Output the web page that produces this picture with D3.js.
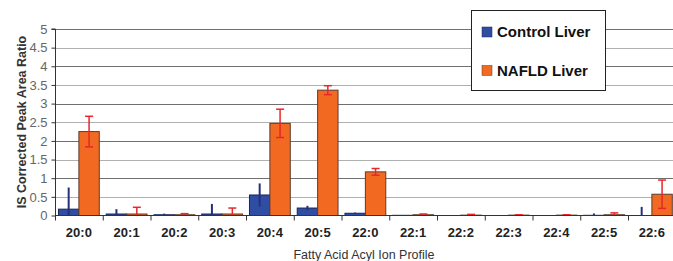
<!DOCTYPE html>
<html>
<head>
<meta charset="utf-8">
<script src="https://cdn.jsdelivr.net/npm/d3@7"></script>
<style>
  body { margin: 0; background: #fff; }
  svg { display: block; font-family: Arial, "Liberation Sans", sans-serif; }
</style>
</head>
<body>
<script>
const categories = ['20:0', '20:1', '20:2', '20:3', '20:4', '20:5', '22:0', '22:1', '22:2', '22:3', '22:4', '22:5', '22:6'];
const controlValues = [0.17, 0.04, 0.02, 0.04, 0.55, 0.2, 0.06, 0.005, 0, 0, 0, 0.005, 0];
const controlErrors = [0.58, 0.13, 0.03, 0.27, 0.31, 0.06, 0.02, 0.005, 0, 0, 0, 0.05, 0.23];
const nafldValues = [2.25, 0.04, 0.02, 0.04, 2.47, 3.36, 1.17, 0.02, 0.01, 0.01, 0.01, 0.02, 0.57];
const nafldErrors = [0.41, 0.18, 0.03, 0.16, 0.38, 0.12, 0.09, 0.02, 0.02, 0.01, 0.01, 0.05, 0.38];
const yTicks = [0, 0.5, 1, 1.5, 2, 2.5, 3, 3.5, 4, 4.5, 5];
const seriesNames = ['Control Liver', 'NAFLD Liver'];

const width = 673, height = 261;
const svg = d3.select('body').append('svg')
  .attr('width', width)
  .attr('height', height);

const x = d3.scaleBand()
  .domain(categories)
  .range([55, 55 + 13 * 47.75])
  .paddingInner(0)
  .paddingOuter(0);

const y = d3.scaleLinear()
  .domain([0, 5])
  .range([215.5, 29]);

const inner = d3.scaleBand()
  .domain([0, 1])
  .range([0, x.bandwidth()])
  .paddingOuter(0.17)
  .paddingInner(0);

// gridlines
svg.append('g').selectAll('line')
  .data(yTicks.filter(d => d > 0))
  .enter().append('line')
  .attr('x1', 55).attr('x2', width)
  .attr('y1', d => Math.round(y(d)) + 0.5)
  .attr('y2', d => Math.round(y(d)) + 0.5)
  .attr('stroke', d => d % 1 === 0 ? '#707070' : '#b0b0b0')
  .attr('stroke-width', 1);

// y axis
const yAxis = svg.append('g')
  .attr('transform', 'translate(55.5,0)')
  .call(d3.axisLeft(y).tickValues(yTicks).tickSize(4).tickPadding(4).tickFormat(d3.format('')));
yAxis.select('.domain').attr('stroke', '#333').attr('d', `M-4,${y(5)}H0V${y(0)}`);
yAxis.selectAll('.tick line').attr('stroke', '#333');
yAxis.selectAll('.tick text').attr('fill', '#666').style('font-size', '13px').style('font-family', 'Arial, "Liberation Sans", sans-serif');

// bars
const groups = svg.append('g').selectAll('g')
  .data(categories)
  .enter().append('g')
  .attr('transform', d => `translate(${x(d)},0)`);

groups.append('rect')
  .attr('x', (d, i) => inner(0))
  .attr('y', (d, i) => y(controlValues[i]))
  .attr('width', inner.bandwidth())
  .attr('height', (d, i) => y(0) - y(controlValues[i]))
  .attr('fill', '#2f4ea3')
  .attr('stroke', '#1c2456')
  .attr('stroke-width', 1);

groups.append('rect')
  .attr('x', (d, i) => inner(1))
  .attr('y', (d, i) => y(nafldValues[i]))
  .attr('width', inner.bandwidth())
  .attr('height', (d, i) => y(0) - y(nafldValues[i]))
  .attr('fill', '#f26a21')
  .attr('stroke', '#5a3c30')
  .attr('stroke-width', 1);

// error bars
groups.append('line')
  .attr('x1', inner(0) + inner.bandwidth() / 2)
  .attr('x2', inner(0) + inner.bandwidth() / 2)
  .attr('y1', (d, i) => y(Math.max(0, controlValues[i] - controlErrors[i])))
  .attr('y2', (d, i) => y(controlValues[i] + controlErrors[i]))
  .attr('stroke', '#26307a')
  .attr('stroke-width', 2);

const cx = inner(1) + inner.bandwidth() / 2;
groups.append('line')
  .attr('x1', cx).attr('x2', cx)
  .attr('y1', (d, i) => y(Math.max(0, nafldValues[i] - nafldErrors[i])))
  .attr('y2', (d, i) => y(nafldValues[i] + nafldErrors[i]))
  .attr('stroke', '#e8262b')
  .attr('stroke-width', 1.5);
groups.append('line')
  .attr('x1', cx - 4).attr('x2', cx + 4)
  .attr('y1', (d, i) => y(nafldValues[i] + nafldErrors[i]))
  .attr('y2', (d, i) => y(nafldValues[i] + nafldErrors[i]))
  .attr('stroke', '#e8262b')
  .attr('stroke-width', 1.5);
groups.filter((d, i) => nafldValues[i] - nafldErrors[i] > 0).append('line')
  .attr('x1', cx - 4).attr('x2', cx + 4)
  .attr('y1', d => y(nafldValues[categories.indexOf(d)] - nafldErrors[categories.indexOf(d)]))
  .attr('y2', d => y(nafldValues[categories.indexOf(d)] - nafldErrors[categories.indexOf(d)]))
  .attr('stroke', '#e8262b')
  .attr('stroke-width', 1.5);

// x axis
const xAxis = svg.append('g')
  .attr('transform', `translate(0,${y(0)})`)
  .call(d3.axisBottom(x).tickSize(0).tickPadding(12));
xAxis.select('.domain').attr('stroke', '#333').attr('d', `M55,0H${width}`);
xAxis.selectAll('.tick text')
  .attr('fill', '#222')
  .style('font-size', '13px')
  .style('font-weight', 'bold')
  .style('font-family', 'Arial, "Liberation Sans", sans-serif');
svg.append('g').selectAll('line')
  .data(categories)
  .enter().append('line')
  .attr('x1', d => x(d) + 0.5).attr('x2', d => x(d) + 0.5)
  .attr('y1', y(0)).attr('y2', y(0) + 5)
  .attr('stroke', '#333');

// axis titles
svg.append('text')
  .attr('x', 364).attr('y', 259)
  .attr('text-anchor', 'middle')
  .attr('fill', '#333')
  .style('font-size', '12.5px')
  .text('Fatty Acid Acyl Ion Profile');

svg.append('text')
  .attr('transform', 'translate(26,122) rotate(-90)')
  .attr('text-anchor', 'middle')
  .attr('fill', '#333')
  .style('font-size', '12.5px')
  .style('font-weight', 'bold')
  .text('IS Corrected Peak Area Ratio');

// legend
const legend = svg.append('g');
legend.append('rect')
  .attr('x', 471.5).attr('y', 10.5)
  .attr('width', 134).attr('height', 80)
  .attr('fill', '#fff')
  .attr('stroke', '#222');
const legendColors = ['#2f4ea3', '#f26a21'];
seriesNames.forEach((name, i) => {
  legend.append('rect')
    .attr('x', 482).attr('y', 27 + i * 38.5)
    .attr('width', 10).attr('height', 10)
    .attr('fill', legendColors[i])
    .attr('stroke', i === 0 ? '#1c2456' : '#5a3c30')
    .attr('stroke-width', 0.5);
  legend.append('text')
    .attr('x', 497).attr('y', 37 + i * 38.5)
    .attr('fill', '#111')
    .style('font-size', '15px')
    .style('font-weight', 'bold')
    .text(name);
});
</script>
</body>
</html>
